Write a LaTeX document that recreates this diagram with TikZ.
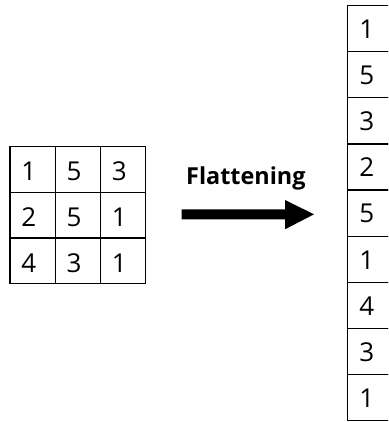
\documentclass[tikz,border=0pt]{standalone}
\usepackage{fontspec}
\setmainfont{Open Sans}
\usetikzlibrary{calc}
\begin{document}
\begin{tikzpicture}[x=1pt,y=-1pt,
  gridcell/.style={draw=black,line width=1.2pt,minimum width=45.3pt,minimum height=45.8pt,inner sep=0pt,anchor=north west},
  colcell/.style={draw=black,line width=1.2pt,minimum width=45pt,minimum height=46.1pt,inner sep=0pt,anchor=north west},
  digit/.style={anchor=base,inner sep=0pt,font=\fontsize{26}{30}\selectfont}]
\useasboundingbox (0,0) rectangle (388,422);
% left 3x3 grid
\foreach \r/\row in {0/{1,5,3},1/{2,5,1},2/{4,3,1}}{
  \foreach \v [count=\c from 0] in \row {
    \node[gridcell] (g\r\c) at ({9.3+45.3*\c},{145.7+45.8*\r}) {};
    \node[digit] (gd\r\c) at ({28.7+45.3*\c},{180.7+45.8*\r}) {\v};
  }
}
% flattened column
\begin{scope}
\clip (0,0) rectangle (388,422);
\foreach \v [count=\i from 0] in {1,5,3,2,5,1,4,3,1}{
  \node[colcell] (c\i) at (346.7,{5+46.1*\i}) {};
  \node[digit] (cd\i) at (366.8,{38.5+46.1*\i}) {\v};
}
\end{scope}
% label and arrow
\node[anchor=base west,inner sep=0pt,font=\bfseries\fontsize{23.4}{28}\selectfont] (lab) at (186,184) {Flattening};
\coordinate (as) at (181.7,214.3);
\coordinate (at) at (314,214.3);
\fill[black] ($(as)+(0,-5)$) -- (285,209.3) -- (285,200) -- (at) -- (285,229.3) -- (285,219.3) -- ($(as)+(0,5)$) -- cycle;
\end{tikzpicture}
\end{document}
